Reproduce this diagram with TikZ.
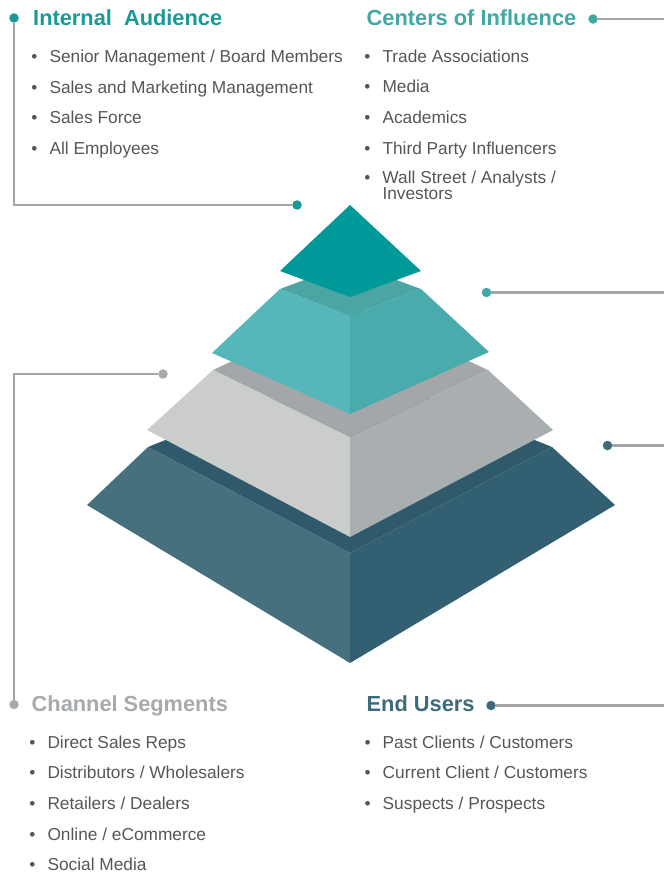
\documentclass[tikz,border=0pt]{standalone}
\usepackage{fontspec}
\setmainfont{Liberation Sans}
\usepackage{xcolor}
\usepackage{tikz}
\usetikzlibrary{positioning,calc}

% palette
\definecolor{capteal}{HTML}{009999}
\definecolor{tealtop}{HTML}{4AA5A3}
\definecolor{tealleft}{HTML}{55B7B9}
\definecolor{tealright}{HTML}{49ABAB}
\definecolor{graytop}{HTML}{A3A7AA}
\definecolor{grayleft}{HTML}{CBCDCD}
\definecolor{grayright}{HTML}{A9AEB1}
\definecolor{slatetop}{HTML}{2F5A6B}
\definecolor{slateleft}{HTML}{46707D}
\definecolor{slateright}{HTML}{325F72}
\definecolor{linegray}{HTML}{A3A6A9}
\definecolor{itemgray}{HTML}{595555}
\definecolor{iahead}{HTML}{179A98}
\definecolor{coihead}{HTML}{40A8A5}
\definecolor{cshead}{HTML}{A6AAAD}
\definecolor{euhead}{HTML}{3D6B7B}

\newcommand{\headfont}{\fontsize{21.8}{26}\selectfont\bfseries}
\newcommand{\itemfont}{\fontsize{17.3}{14}\selectfont}
\newcommand{\bul}{\llap{\textbullet\hspace{12pt}}}

\tikzstyle{link} = [line width=2.4pt, draw=linegray]
\tikzstyle{dot} = [circle, inner sep=0pt, minimum size=9.5pt]
\tikzstyle{head} = [anchor=base west, inner sep=0pt, font=\headfont]
\tikzstyle{itemtext} = [anchor=base west, inner sep=0pt, font=\itemfont, text=itemgray]
\tikzstyle{item} = [itemtext, execute at begin node=\bul]

\begin{document}
\begin{tikzpicture}[x=1pt, y=-1pt]
    \useasboundingbox (0,0) rectangle (664,874);

    % Bottom layer
    \fill[slatetop] (148,447) -- (350,366) -- (552,447) -- (350,553) -- cycle;
    \fill[slateleft] (148,447) -- (350,553) -- (350,663) -- (87,505) -- cycle;
    \fill[slateright] (552,447) -- (615,505) -- (350,663) -- (350,553) -- cycle;

    % Grey layer
    \fill[graytop] (213,370) -- (350,306) -- (488,370) -- (350,437) -- cycle;
    \fill[grayleft] (213,370) -- (350,437) -- (350,537) -- (147,430) -- cycle;
    \fill[grayright] (488,370) -- (553,430) -- (350,537) -- (350,437) -- cycle;

    % Teal layer
    \fill[tealtop] (280,289) -- (350,263) -- (421,289) -- (350,316) -- cycle;
    \fill[tealleft] (280,289) -- (350,316) -- (350,414) -- (212,353) -- cycle;
    \fill[tealright] (421,289) -- (489,352) -- (350,414) -- (350,316) -- cycle;

    % Cap
    \fill[capteal] (350,205) -- (421,271) -- (350,297) -- (280,271) -- cycle;

    % Internal Audience
    \node[head, text=iahead] (ia) at (33,26) {Internal\ \ Audience};
    \foreach \txt [count=\i] in {Senior Management / Board Members, Sales and Marketing Management, Sales Force, All Employees}
        \node[item] (ia\i) at (49.3,{62.5+30.7*(\i-1)}) {\txt};
    \node[dot, fill=iahead] (iadot) at (14,18) {};
    \node[dot, fill=iahead] (iaend) at (297,205) {};
    \draw[link] (iadot) |- (iaend);

    % Centers of Influence
    \node[head, text=coihead] (coi) at (366.5,25.5) {Centers of Influence};
    \foreach \txt [count=\i] in {Trade Associations, Media, Academics, Third Party Influencers}
        \node[item] (coi\i) at (382.3,{62.3+30.7*(\i-1)}) {\txt};
    % two-line entry, placed on its last baseline
    \node[itemtext, align=left] (coi5) at (382.3,200) {\bul Wall Street / Analysts /\\Investors};
    \node[dot, fill=coihead] (coidot) at (593,19) {};
    \coordinate (coiedge) at (664,19);
    \draw[link] (coidot) -- (coiedge);
    \node[dot, fill=coihead] (tealdot) at (486.5,292.5) {};
    \coordinate (tealedge) at (664,292.5);
    \draw[link] (tealdot) -- (tealedge);

    % Channel Segments
    \node[head, text=cshead] (cs) at (31.5,711.7) {Channel Segments};
    \foreach \txt [count=\i] in {Direct Sales Reps, Distributors / Wholesalers, Retailers / Dealers, Online / eCommerce, Social Media}
        \node[item] (cs\i) at (47.3,{748.3+30.6*(\i-1)}) {\txt};
    \node[dot, fill=cshead] (csdot) at (163,374) {};
    \node[dot, fill=cshead] (csend) at (14,704.5) {};
    \draw[link] (csdot) -| (csend);

    % End Users
    \node[head, text=euhead] (eu) at (366.5,711.7) {End Users};
    \foreach \txt [count=\i] in {Past Clients / Customers, Current Client / Customers, Suspects / Prospects}
        \node[item] (eu\i) at (382.5,{748.3+30.6*(\i-1)}) {\txt};
    \node[dot, fill=euhead] (eudot) at (491,705.5) {};
    \coordinate (euedge) at (664,705.5);
    \draw[link] (eudot) -- (euedge);
    \node[dot, fill=euhead] (slatedot) at (607.5,445.5) {};
    \coordinate (slateedge) at (664,445.5);
    \draw[link] (slatedot) -- (slateedge);
\end{tikzpicture}
\end{document}
